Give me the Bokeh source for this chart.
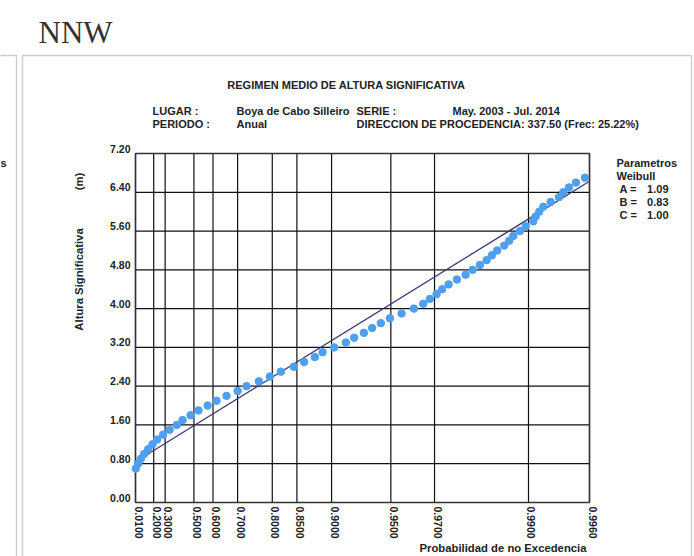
import math
from bokeh.plotting import figure
from bokeh.models import ColumnDataSource, Label, LabelSet, BoxAnnotation, Range1d
from bokeh.core.properties import value
from bokeh.embed import file_html
from bokeh.resources import INLINE

# ---- data ----
prob = [0.01351, 0.03969, 0.06947, 0.10470, 0.14564, 0.18852, 0.23102, 0.28315, 0.33560, 0.38926,
        0.42867, 0.48030, 0.52617, 0.57400, 0.61611, 0.65849, 0.70007, 0.72972, 0.76594, 0.79420,
        0.81904, 0.84457, 0.86221, 0.87842, 0.88889, 0.90299, 0.91539, 0.92322, 0.93145, 0.93779,
        0.94381, 0.94942, 0.95589, 0.96180, 0.96574, 0.96832, 0.97071, 0.97257, 0.97455, 0.97691,
        0.97914, 0.98078, 0.98235, 0.98368, 0.98466, 0.98558, 0.98672, 0.98747, 0.98805, 0.98895,
        0.98966, 0.99054, 0.99080, 0.99118, 0.99159, 0.99228, 0.99300, 0.99334, 0.99377, 0.99426,
        0.99483]
height = [0.7, 0.8, 0.9, 1.0, 1.1, 1.2, 1.3, 1.4, 1.5, 1.6,
          1.7, 1.8, 1.9, 2.0, 2.1, 2.2, 2.3, 2.4, 2.5, 2.6,
          2.7, 2.8, 2.9, 3.0, 3.1, 3.2, 3.3, 3.4, 3.5, 3.6,
          3.7, 3.8, 3.9, 4.0, 4.1, 4.2, 4.3, 4.4, 4.5, 4.6,
          4.7, 4.8, 4.9, 5.0, 5.1, 5.2, 5.3, 5.4, 5.5, 5.6,
          5.7, 5.8, 5.9, 6.0, 6.1, 6.2, 6.3, 6.4, 6.5, 6.6,
          6.7]
tick_probs = [0.01, 0.2, 0.3, 0.5, 0.6, 0.7, 0.8, 0.85, 0.9, 0.95, 0.97, 0.99, 0.9951]
tick_labels = ["0.0100", "0.2000", "0.3000", "0.5000", "0.6000", "0.7000", "0.8000",
               "0.8500", "0.9000", "0.9500", "0.9700", "0.9900", "0.9960"]
ytick_vals = [0.0, 0.8, 1.6, 2.4, 3.2, 4.0, 4.8, 5.6, 6.4, 7.2]
ytick_labels = ["0.00", "0.80", "1.60", "2.40", "3.20", "4.00", "4.80", "5.60", "6.40", "7.20"]
param_names = ["A =", "B =", "C ="]
param_values = [1.09, 0.83, 1.00]

FONT = "Liberation Sans"
TXT = "#222222"
W, H = 694, 556
FL, FR, FT, FB = 135, 589, 153, 502   # plot area in pixels


def tr(f):
    return -math.log(1.0 - f)


u_pts = [tr(f) for f in prob]
u_ticks = [tr(f) for f in tick_probs]
u_min, u_max = u_ticks[0], u_ticks[-1]
y_min, y_max = ytick_vals[0], ytick_vals[-1]

kx = (FR - FL) / (u_max - u_min)
ky = (FB - FT) / (y_max - y_min)
xr = Range1d(u_min - FL / kx, u_max + (W - FR) / kx)
yr = Range1d(y_min - (H - FB) / ky, y_max + FT / ky)

p = figure(width=W, height=H, output_backend="svg", toolbar_location=None,
           x_range=xr, y_range=yr, min_border=0)
p.axis.visible = False
p.grid.visible = False
p.outline_line_color = None
p.background_fill_color = "white"
p.border_fill_color = "white"

# grid
GC = "#111111"
p.segment(x0=u_ticks, x1=u_ticks, y0=[y_min] * len(u_ticks), y1=[y_max] * len(u_ticks),
          line_color=GC, line_width=1.2)
p.segment(x0=[u_min] * len(ytick_vals), x1=[u_max] * len(ytick_vals), y0=ytick_vals, y1=ytick_vals,
          line_color=GC, line_width=1.2)
p.quad(left=[u_min], right=[u_max], bottom=[y_min], top=[y_max], fill_color=None,
       line_color="#333333", line_width=1.5)

# Weibull fit line from parameters
A, B, C = param_values
u_line = [u_min, u_max]
h_line = [B + A * (u ** (1.0 / C)) for u in u_line]
p.line(u_line, h_line, line_color="#3b3a78", line_width=1.3)

p.scatter(u_pts, height, size=7.5, fill_color="#4f9ff0", line_color="#4f9ff0")

# y tick labels
ysrc = ColumnDataSource(dict(x=[u_min] * len(ytick_vals), y=ytick_vals, t=ytick_labels))
p.add_layout(LabelSet(x="x", y="y", text="t", source=ysrc, x_offset=-5, y_offset=1,
                      text_align="right", text_baseline="alphabetic",
                      text_font=value(FONT), text_font_style="bold", text_font_size="10.5px",
                      text_color=TXT))
# x tick labels (vertical)
xsrc = ColumnDataSource(dict(x=u_ticks, y=[y_min] * len(u_ticks), t=tick_labels))
p.add_layout(LabelSet(x="x", y="y", text="t", source=xsrc, x_offset=3, y_offset=-4,
                      angle=-math.pi / 2, text_align="left", text_baseline="middle",
                      text_font=value(FONT), text_font_style="bold", text_font_size="10.5px",
                      text_color=TXT))


def lab(x, y, t, size="11px", align="left", bold=True, angle=0.0, font=FONT, color=TXT, baseline="alphabetic"):
    p.add_layout(Label(x=x, y=y, x_units="canvas", y_units="canvas", text=t, angle=angle,
                       text_align=align, text_baseline=baseline, text_font=font,
                       text_font_style="bold" if bold else "normal", text_font_size=size,
                       text_color=color))


# panel borders
p.add_layout(BoxAnnotation(left=22, right=691, top=55, bottom=620, left_units="canvas", right_units="canvas",
                           top_units="canvas", bottom_units="canvas", fill_alpha=0,
                           line_color="#555555", line_width=1.4))
p.add_layout(BoxAnnotation(left=-20, right=16, top=55, bottom=620, left_units="canvas", right_units="canvas",
                           top_units="canvas", bottom_units="canvas", fill_alpha=0,
                           line_color="#555555", line_width=1.4))

lab(38, 32, "NNW", size="31px", bold=False, font="Liberation Serif", color="#333333")
lab(346, 84, "REGIMEN MEDIO DE ALTURA SIGNIFICATIVA", align="center")
lab(152, 110, "LUGAR :")
lab(236, 110, "Boya de Cabo Silleiro")
lab(356, 110, "SERIE :")
lab(452, 110, "May. 2003 - Jul. 2014")
lab(152, 123, "PERIODO :")
lab(236, 123, "Anual")
lab(356, 123, "DIRECCION DE PROCEDENCIA: 337.50 (Frec: 25.22%)")

lab(78, 279, "Altura Significativa", size="11.3px", align="center", angle=math.pi / 2)
lab(78, 181, "(m)", size="11.3px", align="center", angle=math.pi / 2)
lab(586, 547, "Probabilidad de no Excedencia", size="11.3px", align="right")

lab(616, 162, "Parametros")
lab(616, 175, "Weibull")
for i, (nm, v) in enumerate(zip(param_names, param_values)):
    yc = 188 + 13 * i
    lab(619, yc, nm)
    lab(668, yc, "%.2f" % v, align="right")

lab(0, 162, "s")

open("out.html", "w").write(file_html(p, INLINE))
